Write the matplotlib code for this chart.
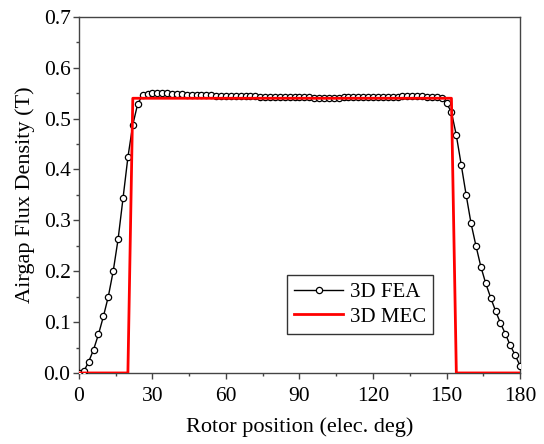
import numpy as np
import matplotlib.pyplot as plt
from matplotlib.ticker import MultipleLocator

plt.rcParams['font.family'] = ['Liberation Serif', 'DejaVu Serif']

# 3D FEA, one point every 2 elec. deg
fea_deg = np.arange(0, 181, 2)
fea_b = [0.000, 0.003, 0.022, 0.046, 0.076, 0.111, 0.150, 0.200, 0.263, 0.343,
         0.424, 0.488, 0.529, 0.546, 0.549, 0.550, 0.551, 0.551, 0.550, 0.549,
         0.548, 0.548, 0.547, 0.547, 0.547, 0.546, 0.546, 0.546, 0.545, 0.545,
         0.545, 0.545, 0.544, 0.544, 0.544, 0.544, 0.544, 0.543, 0.543, 0.543,
         0.543, 0.543, 0.542, 0.542, 0.542, 0.542, 0.542, 0.542, 0.541, 0.541,
         0.541, 0.541, 0.541, 0.541, 0.542, 0.542, 0.542, 0.542, 0.542, 0.542,
         0.543, 0.543, 0.543, 0.543, 0.543, 0.543, 0.544, 0.544, 0.544, 0.544,
         0.544, 0.543, 0.543, 0.542, 0.540, 0.530, 0.513, 0.467, 0.409, 0.350,
         0.294, 0.250, 0.209, 0.176, 0.148, 0.122, 0.098, 0.077, 0.054, 0.035,
         0.014]

# 3D MEC
mec_deg = [0, 20, 22, 152, 154, 180]
mec_b = [0, 0, 0.54, 0.54, 0, 0]

fig = plt.figure(figsize=(5.44, 4.44), dpi=100)
ax = fig.add_axes([0.145, 0.160, 0.811, 0.802])

ax.plot(fea_deg, fea_b, color='black', lw=1.0, marker='o', ms=4.5,
        mfc='white', mec='black', mew=0.9, label='3D FEA', zorder=3)
ax.plot(mec_deg, mec_b, color='red', lw=2.0, label='3D MEC', zorder=4)

ax.set_xlim(0, 180)
ax.set_ylim(0, 0.7)
ax.xaxis.set_major_locator(MultipleLocator(30))
ax.xaxis.set_minor_locator(MultipleLocator(15))
ax.yaxis.set_major_locator(MultipleLocator(0.1))
ax.yaxis.set_minor_locator(MultipleLocator(0.05))
ax.yaxis.set_major_formatter(plt.FormatStrFormatter('%.1f'))
ax.tick_params(which='major', direction='out', length=4.5, width=1,
               color='#444444', labelsize=15.5)
ax.tick_params(which='minor', direction='out', length=2.5, width=1,
               color='#444444')
ax.tick_params(axis='x', which='major', pad=5.5)
ax.tick_params(axis='y', which='major', pad=1.5)
for s in ax.spines.values():
    s.set_color('#444444')
    s.set_linewidth(1.0)

ax.set_xlabel('Rotor position (elec. deg)', fontsize=16, labelpad=8)
ax.set_ylabel('Airgap Flux Density (T)', fontsize=16, labelpad=6)

leg = ax.legend(loc='upper left', bbox_to_anchor=(0.472, 0.275),
                borderaxespad=0, fontsize=15, fancybox=False,
                edgecolor='#333333', framealpha=1, handlelength=2.35,
                handletextpad=0.3, borderpad=0.35, labelspacing=0.25)
leg.get_frame().set_linewidth(1.0)

fig.savefig('out.png', dpi=100)
